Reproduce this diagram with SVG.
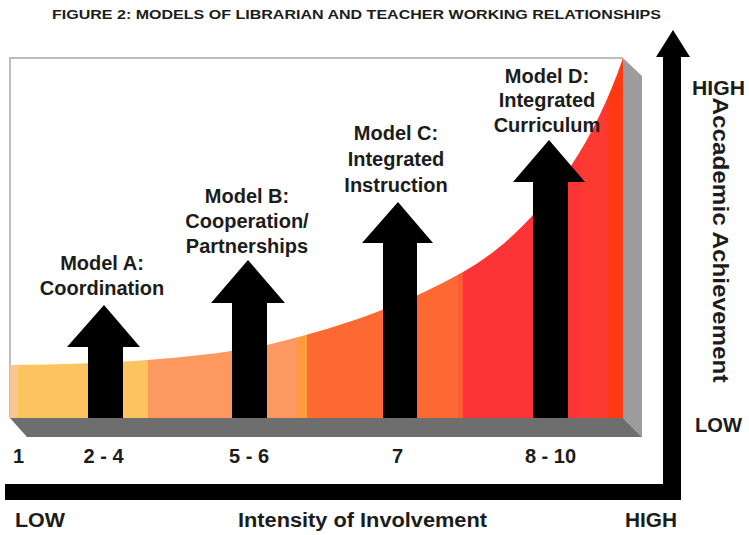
<svg xmlns="http://www.w3.org/2000/svg" width="749" height="535" viewBox="0 0 749 535">
  <style>
    .t { font-family: "Liberation Sans", Arial, sans-serif; font-weight: bold; fill: #1c1c1c; }
    .lbl { font-size: 20px; text-anchor: middle; }
    .num { font-size: 20px; text-anchor: middle; }
    .ax { font-size: 20px; }
    .blk { fill: #000; }
  </style>
  <defs>
    <clipPath id="under">
      <path d="M10,365 C120,364 200,358 267,345 C330,330 400,308 463,272 C520,240 585,170 623,58 L623,418 L10,418 Z"/>
    </clipPath>
  </defs>
  <rect width="749" height="535" fill="#fff"/>

  <text class="t" x="52" y="19" font-size="12" textLength="609" lengthAdjust="spacingAndGlyphs">FIGURE 2: MODELS OF LIBRARIAN AND TEACHER WORKING RELATIONSHIPS</text>

  <g id="panel">
    <rect x="10" y="58" width="613" height="360" fill="#fff"/>
    <polyline points="10,418 10,58 623,58" fill="none" stroke="#bdbdbd" stroke-width="2"/>
    <polygon points="623,58 642,76 642,437 623,418" fill="#9c9c9c"/>
    <polygon points="10,418 623,418 642,437 27,437" fill="#6e6e6e"/>
    <g clip-path="url(#under)">
      <rect x="10" y="50" width="8" height="370" fill="#f8c78f"/>
      <rect x="18" y="50" width="130" height="370" fill="#fcc45f"/>
      <rect x="148" y="50" width="150" height="370" fill="#fd9860"/>
      <rect x="298" y="50" width="9" height="370" fill="#fc9c3c"/>
      <rect x="307" y="50" width="151" height="370" fill="#fe6833"/>
      <rect x="458" y="50" width="5" height="370" fill="#fd5a38"/>
      <rect x="463" y="50" width="117" height="370" fill="#fd3436"/>
      <rect x="580" y="50" width="27" height="370" fill="#fc3a32"/>
      <rect x="607" y="50" width="16" height="370" fill="#ff3a12"/>
    </g>
  </g>

  <g id="connectors">
    <polygon class="blk" points="5,484 681,484 681,500 5,500"/>
    <polygon class="blk" points="663,500 663,57 656,57 673,30 690,57 681,57 681,500"/>
  </g>

  <g id="model-a">
    <polygon class="blk" points="88,418 88,347 67,347 104,305 140,347 123,347 123,418"/>
    <text class="t lbl" x="102" y="270">Model A:</text>
    <text class="t lbl" x="102" y="295">Coordination</text>
  </g>
  <g id="model-b">
    <polygon class="blk" points="232,418 232,303 211,303 248,260 285,303 267,303 267,418"/>
    <text class="t lbl" x="247" y="203">Model B:</text>
    <text class="t lbl" x="247" y="228">Cooperation/</text>
    <text class="t lbl" x="247" y="253">Partnerships</text>
  </g>
  <g id="model-c">
    <polygon class="blk" points="383,418 383,243 362,243 398,202 433,243 417,243 417,418"/>
    <text class="t lbl" x="396" y="140">Model C:</text>
    <text class="t lbl" x="396" y="166">Integrated</text>
    <text class="t lbl" x="396" y="192">Instruction</text>
  </g>
  <g id="model-d">
    <polygon class="blk" points="533,418 533,182 513,182 549,140 585,182 568,182 568,418"/>
    <text class="t lbl" x="547" y="83">Model D:</text>
    <text class="t lbl" x="547" y="107">Integrated</text>
    <text class="t lbl" x="547" y="132">Curriculum</text>
  </g>

  <g id="scale">
    <text class="t num" x="18.5" y="463">1</text>
    <text class="t num" x="103.5" y="463">2 - 4</text>
    <text class="t num" x="249" y="463">5 - 6</text>
    <text class="t num" x="397.5" y="463">7</text>
    <text class="t num" x="550.5" y="463">8 - 10</text>
  </g>

  <g id="axis-labels">
    <text class="t ax" x="15" y="527" textLength="50" lengthAdjust="spacingAndGlyphs">LOW</text>
    <text class="t ax" x="238" y="527" textLength="249" lengthAdjust="spacingAndGlyphs">Intensity of Involvement</text>
    <text class="t ax" x="625" y="527" textLength="52" lengthAdjust="spacingAndGlyphs">HIGH</text>
    <text class="t ax" x="692" y="95" textLength="53" lengthAdjust="spacingAndGlyphs">HIGH</text>
    <text class="t ax" x="695" y="432" textLength="47" lengthAdjust="spacingAndGlyphs">LOW</text>
    <text class="t" font-size="22" text-anchor="middle" transform="translate(713,240) rotate(90)" textLength="285" lengthAdjust="spacingAndGlyphs">Accademic Achievement</text>
  </g>
</svg>
